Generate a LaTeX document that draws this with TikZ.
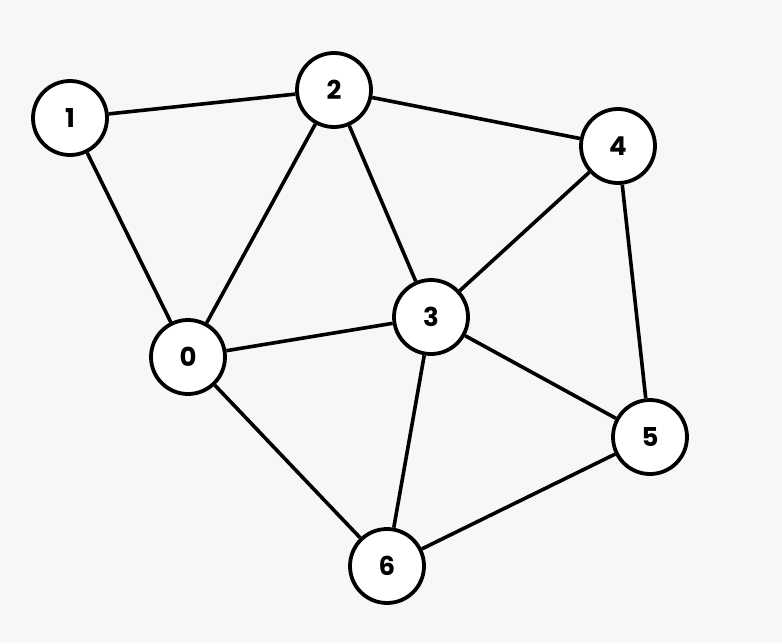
\documentclass[tikz,border=0pt]{standalone}
\usepackage{fontspec}
\setmainfont{Poppins}
\begin{document}
\begin{tikzpicture}[x=1pt,y=-1pt,
  vert/.style={circle,draw=black,line width=3.8pt,fill=white,minimum size=74pt,inner sep=0pt,font=\fontsize{26}{26}\selectfont\bfseries},
  edge/.style={line width=3.6pt,black}]
\fill[fill={rgb,255:red,247;green,247;blue,247}] (0,0) rectangle (782,643);
\useasboundingbox (0,0) rectangle (782,643);
\node[vert] (n1) at (70,118) {1};
\node[vert] (n2) at (334,90) {2};
\node[vert] (n4) at (618,146) {4};
\node[vert] (n3) at (431,317) {3};
\node[vert] (n0) at (188,357) {0};
\node[vert] (n5) at (650,437) {5};
\node[vert] (n6) at (387,566) {6};
\draw[edge] (n1) -- (n2);
\draw[edge] (n1) -- (n0);
\draw[edge] (n2) -- (n0);
\draw[edge] (n2) -- (n3);
\draw[edge] (n2) -- (n4);
\draw[edge] (n4) -- (n3);
\draw[edge] (n4) -- (n5);
\draw[edge] (n0) -- (n3);
\draw[edge] (n0) -- (n6);
\draw[edge] (n3) -- (n5);
\draw[edge] (n3) -- (n6);
\draw[edge] (n5) -- (n6);
\end{tikzpicture}
\end{document}
